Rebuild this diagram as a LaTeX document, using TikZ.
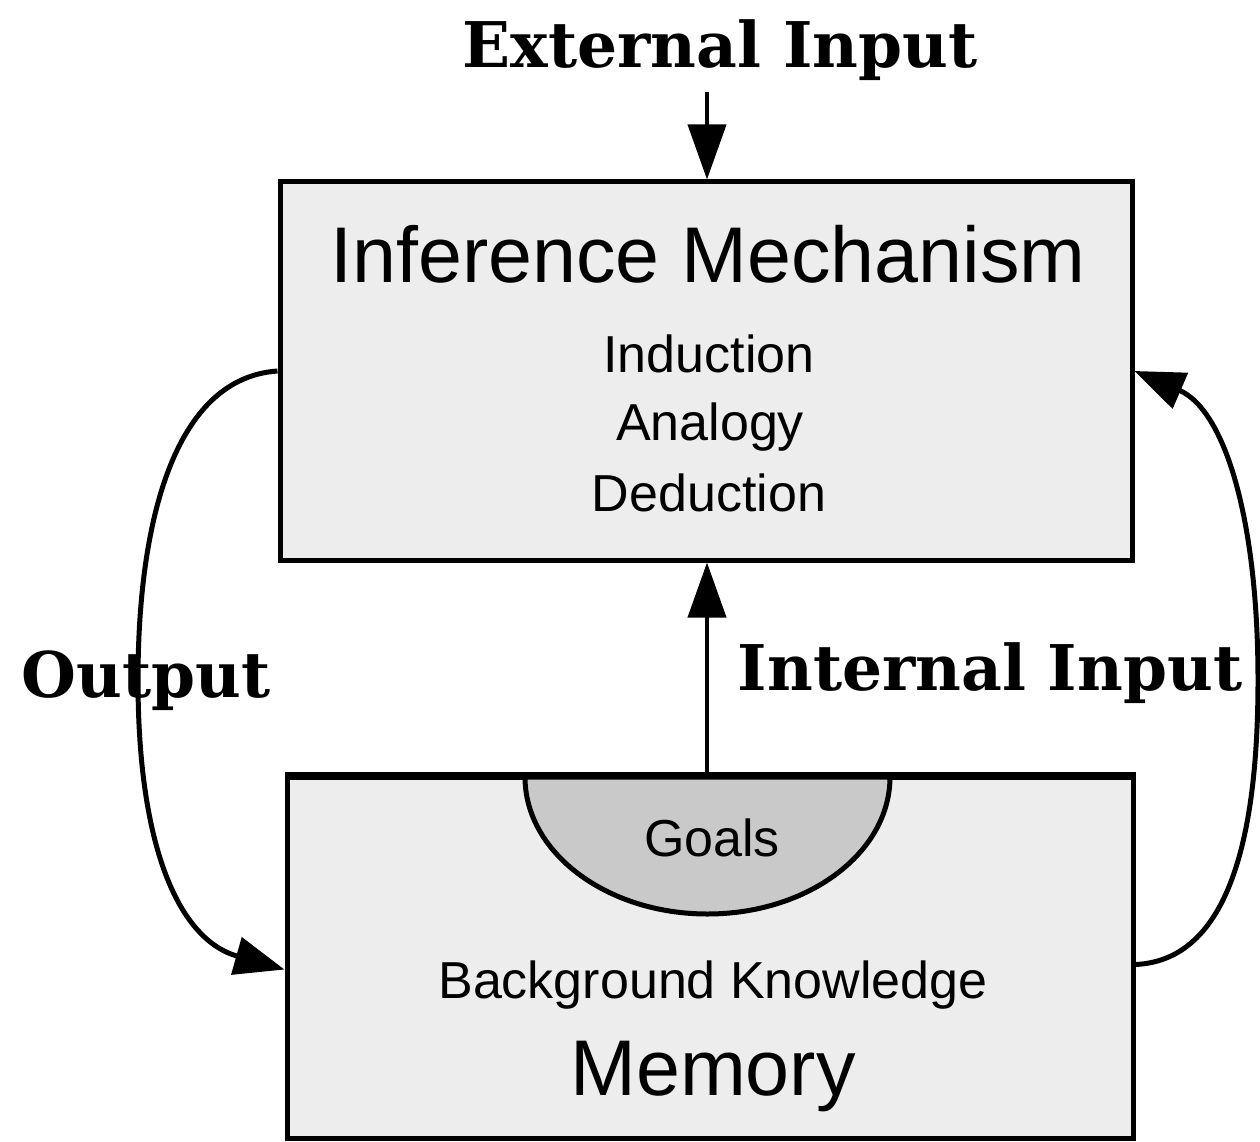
\documentclass[tikz,border=0pt]{standalone}
\usepackage{fontspec}
\setmainfont{DejaVu Serif}
\setsansfont{Liberation Sans}
\usetikzlibrary{arrows.meta}
\tikzset{
  boxstyle/.style={draw=black, line width=5pt, fill=gray!14, rectangle, inner sep=0pt},
  serifl/.style={font=\bfseries\fontsize{63}{72}\selectfont, inner sep=0pt, anchor=base},
  bigsans/.style={font=\sffamily\fontsize{79}{90}\selectfont, inner sep=0pt, anchor=base},
  smallsans/.style={font=\sffamily\fontsize{52}{60}\selectfont, inner sep=0pt, anchor=base},
  arr/.style={line width=4pt, -{Triangle[length=55pt,width=38pt]}},
  curvearr/.style={line width=5pt, -{Triangle[length=50pt,width=38pt]}},
}
\begin{document}
\begin{tikzpicture}[x=1pt,y=-1pt]
\useasboundingbox (0,0) rectangle (1260,1142);
\fill[white] (0,0) rectangle (1260,1142);
% boxes
\node[boxstyle, minimum width=852pt, minimum height=378pt] (inf) at (706,371) {};
\node[boxstyle, minimum width=846pt, minimum height=361pt] (mem) at (710,957.5) {};
% goals half ellipse
\draw[line width=5pt, fill=gray!42] (525,777) arc[start angle=180, end angle=0, x radius=182.5, y radius=137] -- cycle;
\draw[line width=5pt] (mem.north west) -- (mem.north east);
\coordinate (goalsc) at (712,856);
% texts
\node[serifl] (ext) at (720,68) {External Input};
\node[bigsans] (inft) at (708,282) {Inference Mechanism};
\node[smallsans] (ind) at (709,372) {Induction};
\node[smallsans] (ana) at (710,440) {Analogy};
\node[smallsans] (ded) at (709,511) {Deduction};
\node[serifl] (out) at (146,697) {Output};
\node[serifl] (intin) at (990,690) {Internal Input};
\node[smallsans] (goals) at (goalsc) {Goals};
\node[smallsans] (bk) at (713,998) {Background Knowledge};
\node[bigsans] (memt) at (713,1095) {Memory};
% connectors
\coordinate (extstart) at (707,92);
\draw[arr] (extstart) -- (extstart |- inf.north);
\draw[arr] (extstart |- mem.north) -- (extstart |- inf.south);
\draw[curvearr] (inf.west) .. controls (175,378) and (138,520) .. (138,680)
   .. controls (138,850) and (180,940) .. ([yshift=-12pt]mem.west);
\draw[curvearr] ([yshift=-7pt]mem.east) .. controls (1235,960) and (1258,820) .. (1258,680)
   .. controls (1258,520) and (1225,410) .. (inf.east);
\end{tikzpicture}
\end{document}
